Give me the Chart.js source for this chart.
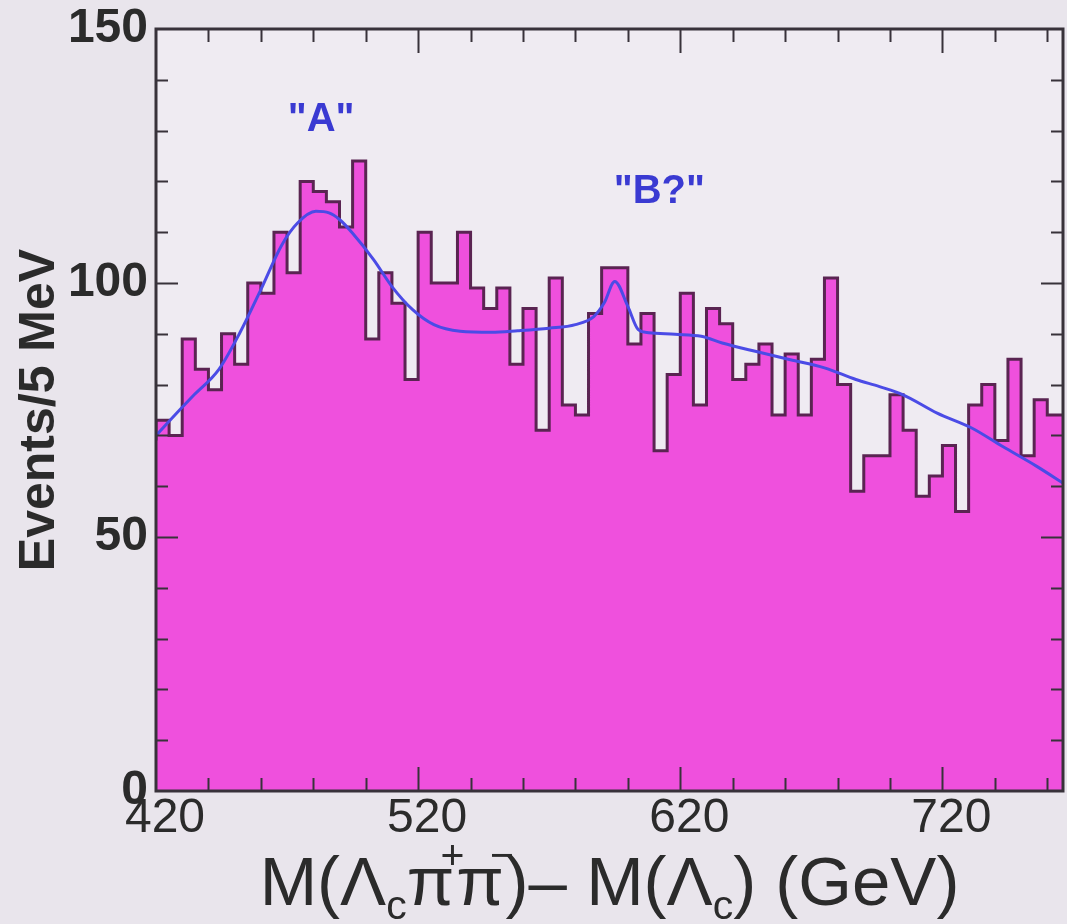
<!DOCTYPE html>
<html>
<head>
<meta charset="utf-8">
<script src="https://cdn.jsdelivr.net/npm/chart.js@4.4.1/dist/chart.umd.min.js"></script>
<style>
  html, body { margin: 0; padding: 0; background: #e9e5ec; }
  canvas { display: block; }
</style>
</head>
<body>
<canvas id="spectrum" width="1067" height="924"></canvas>
<script>
// events per 5 MeV bin, first bin starts at 420
const binStart = 420;
const binWidth = 5;
const counts = [69, 73, 70, 89, 83, 79, 90, 84, 100, 98,
  110, 102, 120, 118, 116, 111, 124, 89, 102, 96,
  81, 110, 100, 100, 110, 99, 95, 99, 84, 95,
  71, 101, 76, 74, 94, 103, 103, 88, 94, 67,
  82, 98, 76, 95, 92, 81, 84, 88, 74, 86,
  74, 85, 101, 80, 59, 66, 66, 78, 71, 58,
  62, 68, 55, 76, 80, 69, 85, 66, 77, 74];

// fit curve (signal "A" + "B?" on top of background)
const fitX = [420, 425, 434, 444, 452, 460, 468, 474, 481, 486, 490, 495, 503, 510, 518, 526,
  536, 548, 558, 570, 580, 587, 591, 595, 600, 604, 608, 618, 628, 636, 649, 662, 675, 687,
  696, 705, 718, 731, 743, 756, 766];
const fitY = [70, 72.8, 77.7, 83, 90.2, 98.7, 107.5, 111.8, 114.1, 113.8, 112.5, 109.8, 104.6, 99.3, 94.7, 91.8,
  90.5, 90.3, 90.6, 91.1, 91.8, 93.4, 96.1, 100.3, 95.4, 90.8, 90.2, 89.9, 89.5, 88.2, 86.5, 84.9, 83.3, 81,
  79.6, 78, 74.4, 71.5, 67.8, 63.9, 60.6];

const xTicks = [420, 520, 620, 720];
const yTicks = [0, 50, 100, 150];

const histPoints = counts.map((c, i) => ({ x: binStart + i * binWidth, y: c }));
histPoints.push({ x: binStart + counts.length * binWidth, y: counts[counts.length - 1] });
const fitPoints = fitX.map((x, i) => ({ x: x, y: fitY[i] }));

const FONT = 'Liberation Sans, Arial, sans-serif';
const frameColor = '#38323a';

const background = {
  id: 'background',
  beforeDraw(chart) {
    const { ctx, chartArea: a } = chart;
    ctx.save();
    ctx.fillStyle = '#e9e5ec';
    ctx.fillRect(0, 0, chart.width, chart.height);
    ctx.fillStyle = '#efebf2';
    ctx.fillRect(a.left, a.top, a.right - a.left, a.bottom - a.top);
    ctx.restore();
  }
};

// box, inward ticks, peak names and the x axis title with sub/superscripts
const frame = {
  id: 'frame',
  afterDatasetsDraw(chart) {
    const { ctx, chartArea: a, scales: { x, y } } = chart;
    ctx.save();
    ctx.strokeStyle = frameColor;
    ctx.lineWidth = 2;
    ctx.beginPath();
    for (let v = 10; v < 150; v += 10) {
      const py = Math.round(y.getPixelForValue(v)) + 0.5;
      const len = v % 50 === 0 ? 22 : 12;
      ctx.moveTo(a.left, py); ctx.lineTo(a.left + len, py);
      ctx.moveTo(a.right, py); ctx.lineTo(a.right - len, py);
    }
    for (let v = 440; v < x.max; v += 20) {
      const px = Math.round(x.getPixelForValue(v)) + 0.5;
      const len = (v - 420) % 100 === 0 ? 24 : 13;
      ctx.moveTo(px, a.bottom); ctx.lineTo(px, a.bottom - len);
      ctx.moveTo(px, a.top); ctx.lineTo(px, a.top + len);
    }
    ctx.stroke();
    ctx.lineWidth = 3;
    ctx.strokeRect(a.left, a.top, a.right - a.left, a.bottom - a.top);

    ctx.fillStyle = '#3a3ad2';
    ctx.font = 'bold 40px ' + FONT;
    ctx.textAlign = 'center';
    ctx.textBaseline = 'middle';
    ctx.fillText('"A"', x.getPixelForValue(483), y.getPixelForValue(132));
    ctx.fillText('"B?"', x.getPixelForValue(612), y.getPixelForValue(118));

    const size = 69;
    const parts = [
      ['M(', 0], ['Λ', 0], ['c', -1], ['π', 0], ['+', 1], ['π', 0], ['−', 1],
      [')– M(', 0], ['Λ', 0], ['c', -1], [') (GeV)', 0]
    ];
    const fontFor = k => (k === 0 ? size : Math.round(size * 0.6)) + 'px ' + FONT;
    const advance = p => {
      ctx.font = fontFor(p[1]);
      const w = ctx.measureText(p[0]).width;
      return p[1] === 1 ? w - size * 0.32 : w;
    };
    let total = 0;
    parts.forEach(p => { total += advance(p); });
    let cx = (a.left + a.right) / 2 - total / 2;
    const base = 905;
    ctx.fillStyle = '#2b2b2b';
    ctx.textAlign = 'left';
    ctx.textBaseline = 'alphabetic';
    parts.forEach(p => {
      ctx.font = fontFor(p[1]);
      if (p[1] === 1) {
        ctx.fillText(p[0], cx - size * 0.2, base - size * 0.52);
      } else if (p[1] === -1) {
        ctx.fillText(p[0], cx, base + size * 0.2);
      } else {
        ctx.fillText(p[0], cx, base);
      }
      cx += advance(p);
    });
    ctx.restore();
  }
};

new Chart(document.getElementById('spectrum'), {
  type: 'line',
  data: {
    datasets: [
      {
        data: fitPoints,
        borderColor: '#4b4be6',
        borderWidth: 3,
        pointRadius: 0,
        cubicInterpolationMode: 'monotone',
        fill: false,
        order: 0
      },
      {
        data: histPoints,
        stepped: 'after',
        fill: 'origin',
        backgroundColor: '#ef50dd',
        borderColor: '#5a2452',
        borderWidth: 3,
        pointRadius: 0,
        order: 1
      }
    ]
  },
  options: {
    responsive: false,
    devicePixelRatio: 1,
    animation: false,
    layout: { padding: { top: 29, right: 4, left: 0, bottom: 0 } },
    plugins: { legend: { display: false }, tooltip: { enabled: false } },
    scales: {
      x: {
        type: 'linear',
        min: 420,
        max: 766,
        afterBuildTicks: s => { s.ticks = xTicks.map(v => ({ value: v })); },
        afterFit: s => { s.height = 133; },
        grid: { display: false },
        border: { display: false },
        ticks: {
          font: { family: FONT, size: 48, lineHeight: 1 },
          color: '#2b2b2b',
          padding: -4,
          labelOffset: 9,
          maxRotation: 0,
          autoSkip: false
        }
      },
      y: {
        min: 0,
        max: 150,
        afterBuildTicks: s => { s.ticks = yTicks.map(v => ({ value: v })); },
        afterFit: s => { s.width = 156; s.paddingTop = 0; s.paddingBottom = 0; },
        grid: { display: false },
        border: { display: false },
        ticks: {
          font: { family: FONT, size: 48, weight: 'bold', lineHeight: 1 },
          color: '#2b2b2b',
          padding: 0
        },
        title: {
          display: true,
          text: 'Events/5 MeV',
          font: { family: FONT, size: 50, weight: 'bold' },
          color: '#2b2b2b',
          padding: { top: 10, bottom: 0 }
        }
      }
    }
  },
  plugins: [background, frame]
});
</script>
</body>
</html>
